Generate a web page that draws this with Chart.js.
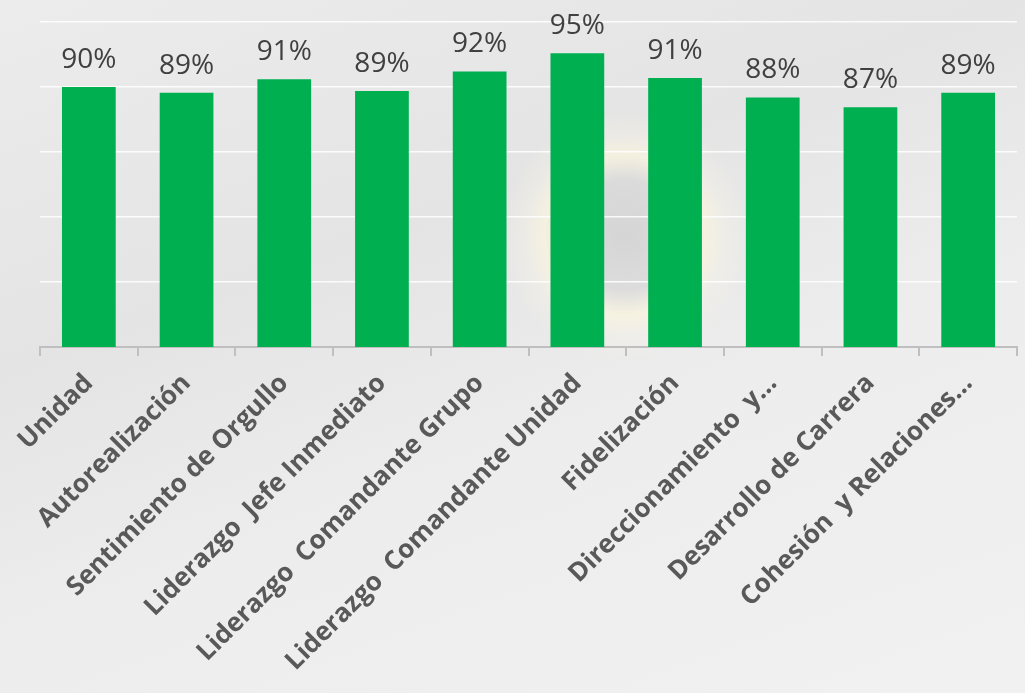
<!DOCTYPE html>
<html lang="es">
<head>
<meta charset="UTF-8">
<title>Resultados por dimensión</title>
<script src="https://cdn.jsdelivr.net/npm/chart.js@4.4.0/dist/chart.umd.min.js"></script>
<style>
  html, body {
    margin: 0;
    padding: 0;
    width: 1025px;
    height: 693px;
    overflow: hidden;
  }
  body {
    background:
      radial-gradient(circle at 625px 235px, rgba(208,208,208,0.8) 0, rgba(212,212,212,0.6) 55px, rgba(252,246,222,0.7) 80px, rgba(250,246,230,0.3) 100px, rgba(235,235,235,0) 125px),
      linear-gradient(160deg, #ececec 0%, #e4e4e4 35%, #ededed 60%, #f1f1f1 100%);
  }
  #wrap { position: relative; width: 1025px; height: 693px; }
</style>
</head>
<body>
<div id="wrap"><canvas id="chart"></canvas></div>
<script>
  const categories = [
    'Unidad',
    'Autorealización',
    'Sentimiento de Orgullo',
    'Liderazgo  Jefe Inmediato',
    'Liderazgo  Comandante Grupo',
    'Liderazgo  Comandante Unidad',
    'Fidelización',
    'Direccionamiento  y…',
    'Desarrollo de Carrera',
    'Cohesión  y Relaciones…'
  ];
  const values = [90.0, 89.1, 91.2, 89.4, 92.4, 95.2, 91.4, 88.4, 86.9, 89.1];
  const yTicks = [50, 60, 70, 80, 90, 100];

  // percentage labels above each bar
  const valueLabels = {
    id: 'valueLabels',
    afterDatasetsDraw(chart) {
      const ctx = chart.ctx;
      const meta = chart.getDatasetMeta(0);
      ctx.save();
      ctx.font = '28px "Open Sans"';
      ctx.fillStyle = '#404040';
      ctx.textAlign = 'center';
      ctx.textBaseline = 'alphabetic';
      meta.data.forEach((bar, i) => {
        ctx.fillText(Math.round(values[i]) + '%', bar.x, bar.y - 19);
      });
      ctx.restore();
    }
  };

  new Chart(document.getElementById('chart'), {
    type: 'bar',
    data: {
      labels: categories,
      datasets: [{
        data: values,
        backgroundColor: '#00AF50',
        barPercentage: 0.55,
        categoryPercentage: 1
      }]
    },
    options: {
      responsive: true,
      maintainAspectRatio: false,
      animation: false,
      layout: { padding: { top: 22, right: 8, bottom: 0, left: 0 } },
      plugins: { legend: { display: false }, tooltip: { enabled: false } },
      scales: {
        x: {
          grid: {
            drawOnChartArea: false,
            drawTicks: true,
            tickLength: 9,
            color: '#bfbfbf',
            lineWidth: 2
          },
          border: { display: true, color: '#bfbfbf', width: 2 },
          ticks: {
            autoSkip: false,
            maxRotation: 45,
            minRotation: 45,
            padding: 12,
            color: '#595959',
            font: { family: '"Open Sans"', size: 26, weight: 'bold' }
          },
          afterFit(scale) { scale.height = 346; }
        },
        y: {
          min: 50,
          max: 100,
          afterBuildTicks(scale) { scale.ticks = yTicks.map(v => ({ value: v })); },
          grid: {
            drawTicks: false,
            color: 'rgba(255,255,255,0.85)',
            lineWidth: 1.5
          },
          border: { display: false },
          ticks: { display: false },
          afterFit(scale) { scale.width = 40; }
        }
      }
    },
    plugins: [valueLabels]
  });
</script>
</body>
</html>
